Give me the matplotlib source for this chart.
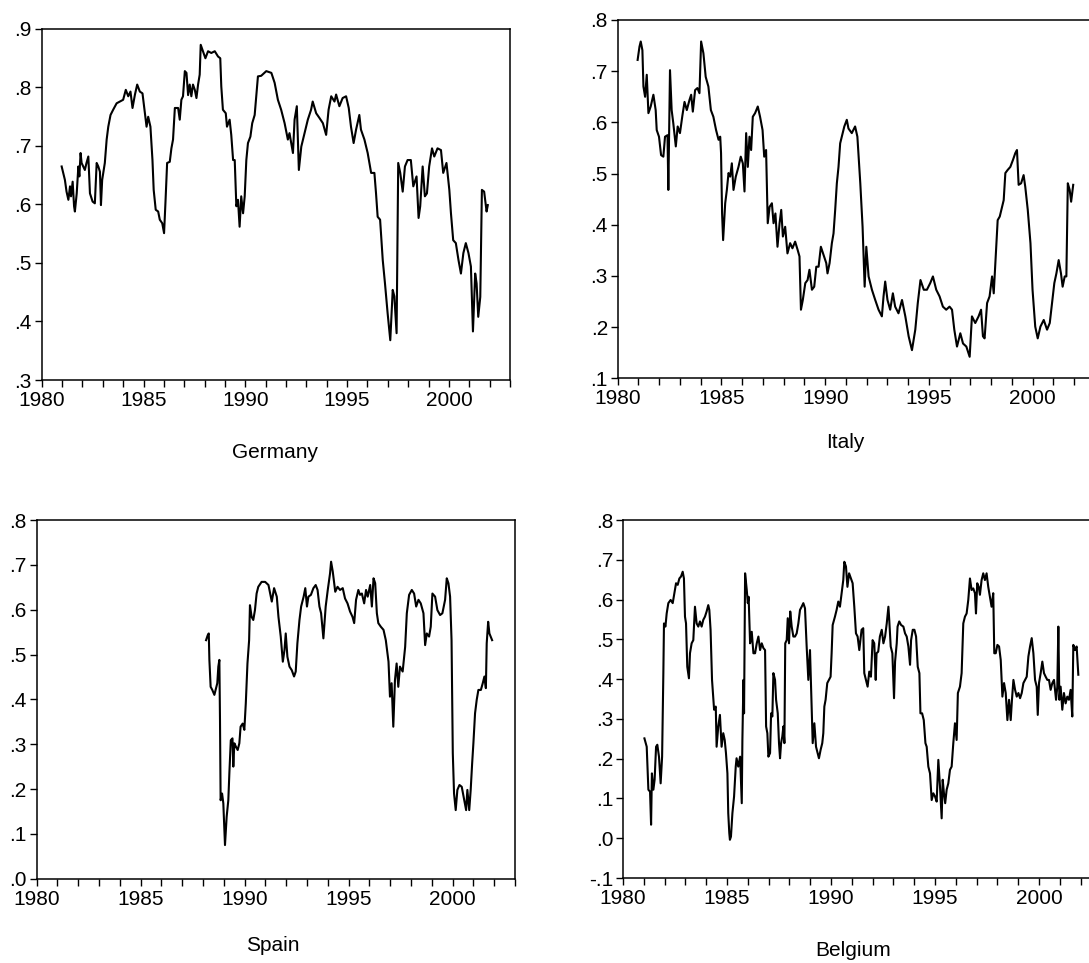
import numpy as np
import matplotlib.pyplot as plt
from matplotlib.ticker import MultipleLocator, FuncFormatter

plt.rcParams['font.family'] = ['Liberation Sans', 'DejaVu Sans']

# Germany
germany_t = [1980.98, 1981.14, 1981.22, 1981.31, 1981.39, 1981.44, 1981.52, 1981.59,
             1981.63, 1981.72, 1981.80, 1981.85, 1981.91, 1981.96, 1982.04, 1982.12,
             1982.20, 1982.29, 1982.37, 1982.50, 1982.61, 1982.70, 1982.78, 1982.86,
             1982.91, 1982.97, 1983.10, 1983.19, 1983.27, 1983.38, 1983.51, 1983.68,
             1983.84, 1984.00, 1984.13, 1984.25, 1984.36, 1984.46, 1984.58, 1984.69,
             1984.82, 1984.95, 1985.07, 1985.15, 1985.23, 1985.34, 1985.44, 1985.50,
             1985.60, 1985.72, 1985.80, 1985.92, 1986.01, 1986.08, 1986.16, 1986.29,
             1986.37, 1986.45, 1986.54, 1986.70, 1986.78, 1986.86, 1986.94, 1987.03,
             1987.11, 1987.19, 1987.27, 1987.35, 1987.43, 1987.52, 1987.60, 1987.68,
             1987.76, 1987.81, 1987.92, 1988.04, 1988.17, 1988.33, 1988.50, 1988.66,
             1988.77, 1988.82, 1988.90, 1989.04, 1989.10, 1989.23, 1989.31, 1989.40,
             1989.48, 1989.56, 1989.64, 1989.72, 1989.80, 1989.89, 1989.97, 1990.05,
             1990.13, 1990.25, 1990.34, 1990.46, 1990.54, 1990.62, 1990.78, 1991.03,
             1991.28, 1991.44, 1991.60, 1991.76, 1991.93, 1992.09, 1992.17, 1992.34,
             1992.42, 1992.53, 1992.63, 1992.75, 1992.91, 1993.07, 1993.23, 1993.31,
             1993.48, 1993.64, 1993.81, 1993.97, 1994.09, 1994.22, 1994.38, 1994.46,
             1994.62, 1994.78, 1994.95, 1995.08, 1995.19, 1995.32, 1995.44, 1995.60,
             1995.68, 1995.85, 1996.01, 1996.18, 1996.34, 1996.42, 1996.50, 1996.62,
             1996.75, 1996.86, 1996.99, 1997.12, 1997.24, 1997.32, 1997.43, 1997.51,
             1997.61, 1997.73, 1997.84, 1997.97, 1998.13, 1998.25, 1998.41, 1998.51,
             1998.59, 1998.71, 1998.82, 1998.92, 1999.03, 1999.17, 1999.28, 1999.44,
             1999.61, 1999.72, 1999.88, 2000.02, 2000.10, 2000.21, 2000.34, 2000.47,
             2000.59, 2000.71, 2000.83, 2000.96, 2001.08, 2001.18, 2001.29, 2001.36,
             2001.44, 2001.54, 2001.62, 2001.73, 2001.85, 2001.91]
germany_v = [.665, .642, .622, .608, .631, .614, .639, .597,
             .588, .619, .665, .648, .688, .671, .665, .659,
             .671, .682, .619, .605, .602, .671, .665, .656,
             .599, .642, .671, .711, .733, .753, .762, .773,
             .776, .779, .796, .785, .793, .765, .788, .805,
             .793, .790, .756, .733, .750, .733, .676, .625,
             .591, .588, .574, .568, .551, .605, .671, .673,
             .696, .711, .765, .765, .745, .779, .785, .828,
             .825, .787, .805, .785, .805, .796, .782, .805,
             .822, .873, .862, .850, .862, .859, .862, .853,
             .850, .802, .762, .756, .733, .745, .719, .676,
             .676, .597, .608, .562, .614, .585, .614, .676,
             .705, .716, .739, .753, .785, .819, .820, .828,
             .825, .808, .779, .762, .739, .711, .722, .688,
             .745, .768, .659, .699, .722, .745, .762, .776,
             .756, .748, .739, .719, .762, .785, .776, .788,
             .768, .782, .785, .765, .733, .705, .728, .753,
             .728, .711, .688, .654, .654, .619, .579, .574,
             .505, .465, .414, .368, .454, .443, .380, .671,
             .654, .622, .665, .676, .676, .631, .648, .577,
             .597, .665, .614, .619, .665, .696, .682, .696,
             .693, .654, .671, .625, .585, .539, .534, .505,
             .482, .517, .534, .517, .494, .383, .482, .465,
             .408, .442, .625, .622, .588, .599]

# Italy
italy_t = [1980.96, 1981.05, 1981.11, 1981.19, 1981.24, 1981.32, 1981.40, 1981.48,
           1981.59, 1981.72, 1981.83, 1981.88, 1981.99, 1982.09, 1982.20, 1982.28,
           1982.40, 1982.44, 1982.52, 1982.60, 1982.68, 1982.80, 1982.89, 1983.00,
           1983.12, 1983.22, 1983.33, 1983.46, 1983.54, 1983.62, 1983.73, 1983.84,
           1983.94, 1984.02, 1984.13, 1984.24, 1984.37, 1984.49, 1984.61, 1984.74,
           1984.86, 1984.94, 1984.98, 1985.03, 1985.08, 1985.18, 1985.26, 1985.34,
           1985.42, 1985.50, 1985.58, 1985.69, 1985.82, 1985.93, 1986.03, 1986.11,
           1986.19, 1986.27, 1986.35, 1986.43, 1986.51, 1986.62, 1986.75, 1986.86,
           1986.98, 1987.06, 1987.15, 1987.23, 1987.32, 1987.43, 1987.51, 1987.60,
           1987.70, 1987.80, 1987.88, 1987.96, 1988.07, 1988.18, 1988.31, 1988.42,
           1988.55, 1988.67, 1988.76, 1988.83, 1988.92, 1989.04, 1989.15, 1989.24,
           1989.36, 1989.47, 1989.57, 1989.68, 1989.79, 1989.92, 1990.05, 1990.11,
           1990.21, 1990.32, 1990.40, 1990.48, 1990.56, 1990.64, 1990.72, 1990.80,
           1990.92, 1991.04, 1991.12, 1991.28, 1991.44, 1991.55, 1991.69, 1991.80,
           1991.90, 1991.98, 1992.09, 1992.25, 1992.41, 1992.57, 1992.73, 1992.81,
           1992.89, 1993.00, 1993.13, 1993.26, 1993.37, 1993.53, 1993.70, 1993.86,
           1994.02, 1994.18, 1994.34, 1994.46, 1994.59, 1994.75, 1994.90, 1995.06,
           1995.19, 1995.35, 1995.51, 1995.67, 1995.83, 1995.99, 1996.11, 1996.22,
           1996.35, 1996.51, 1996.64, 1996.80, 1996.96, 1997.07, 1997.23, 1997.39,
           1997.51, 1997.60, 1997.68, 1997.80, 1997.92, 1998.04, 1998.12, 1998.20,
           1998.31, 1998.41, 1998.52, 1998.60, 1998.68, 1998.79, 1998.92, 1999.05,
           1999.16, 1999.24, 1999.32, 1999.44, 1999.56, 1999.64, 1999.76, 1999.89,
           1999.99, 2000.12, 2000.24, 2000.37, 2000.53, 2000.69, 2000.82, 2000.93,
           2001.04, 2001.14, 2001.25, 2001.36, 2001.44, 2001.54, 2001.62, 2001.69,
           2001.78, 2001.85, 2001.95]
italy_v = [.722, .748, .758, .741, .670, .650, .693, .618,
           .631, .654, .624, .585, .572, .536, .533, .572,
           .575, .468, .702, .624, .598, .553, .592, .579,
           .614, .640, .624, .644, .654, .621, .663, .667,
           .657, .758, .735, .689, .670, .624, .611, .585,
           .566, .572, .540, .422, .370, .442, .468, .501,
           .494, .520, .468, .494, .513, .533, .520, .465,
           .579, .513, .572, .546, .611, .618, .631, .611,
           .585, .533, .546, .403, .435, .442, .403, .422,
           .357, .403, .429, .377, .396, .344, .364, .354,
           .367, .351, .338, .234, .253, .286, .292, .312,
           .273, .279, .318, .318, .357, .341, .325, .305,
           .325, .364, .383, .429, .481, .513, .559, .572,
           .592, .605, .588, .579, .592, .572, .481, .396,
           .279, .357, .299, .273, .253, .234, .221, .260,
           .289, .253, .234, .266, .240, .227, .253, .221,
           .182, .155, .195, .247, .292, .273, .273, .286,
           .299, .273, .260, .240, .234, .240, .234, .195,
           .162, .188, .168, .162, .142, .221, .208, .221,
           .234, .182, .178, .247, .260, .299, .266, .325,
           .409, .416, .435, .448, .501, .507, .513, .527,
           .540, .546, .478, .481, .497, .474, .429, .364,
           .273, .201, .178, .201, .214, .195, .208, .247,
           .286, .305, .331, .305, .279, .299, .299, .481,
           .468, .445, .478]

# Spain
spain_t = [1988.15, 1988.23, 1988.28, 1988.31, 1988.37, 1988.45, 1988.55, 1988.63,
           1988.69, 1988.74, 1988.79, 1988.82, 1988.85, 1988.92, 1988.98, 1989.06,
           1989.14, 1989.22, 1989.27, 1989.34, 1989.42, 1989.46, 1989.51, 1989.59,
           1989.67, 1989.75, 1989.81, 1989.91, 1989.99, 1990.06, 1990.14, 1990.22,
           1990.26, 1990.34, 1990.42, 1990.50, 1990.58, 1990.66, 1990.82,
           1990.99, 1991.15, 1991.31, 1991.42, 1991.55, 1991.63, 1991.74, 1991.84,
           1991.92, 1991.98, 1992.06, 1992.16, 1992.27, 1992.38, 1992.46, 1992.54,
           1992.64, 1992.72, 1992.84, 1992.92, 1993.00, 1993.07, 1993.19, 1993.31,
           1993.42, 1993.51, 1993.60, 1993.68, 1993.79, 1993.90, 1994.00, 1994.11,
           1994.16, 1994.24, 1994.36, 1994.47, 1994.59, 1994.72, 1994.83, 1994.95,
           1995.07, 1995.19, 1995.27, 1995.36, 1995.47, 1995.55, 1995.64, 1995.75,
           1995.84, 1995.92, 1996.04, 1996.12, 1996.20, 1996.28, 1996.36, 1996.43,
           1996.55, 1996.68, 1996.79, 1996.92, 1996.99, 1997.07, 1997.15, 1997.23,
           1997.31, 1997.39, 1997.47, 1997.60, 1997.72, 1997.80, 1997.91, 1998.04,
           1998.15, 1998.25, 1998.36, 1998.47, 1998.60, 1998.68, 1998.76, 1998.87,
           1998.95, 1999.03, 1999.16, 1999.27, 1999.40, 1999.51, 1999.64, 1999.72,
           1999.80, 1999.88, 1999.95, 2000.01, 2000.07, 2000.15, 2000.23, 2000.33,
           2000.44, 2000.56, 2000.65, 2000.71, 2000.80, 2000.87, 2000.94, 2001.00,
           2001.08, 2001.16, 2001.24, 2001.36, 2001.45, 2001.53, 2001.60, 2001.64,
           2001.71, 2001.77, 2001.83, 2001.90]
spain_v = [.532, .543, .547, .488, .428, .421, .410, .425,
           .436, .473, .488, .354, .175, .190, .168, .075,
           .138, .175, .235, .309, .313, .250, .302, .294,
           .287, .302, .339, .346, .332, .391, .480, .532,
           .610, .584, .577, .599, .636, .651, .662,
           .662, .655, .618, .648, .629, .584, .540, .484,
           .510, .547, .495, .473, .465, .451, .462, .525,
           .577, .607, .629, .648, .607, .629, .633, .648,
           .655, .644, .607, .592, .536, .607, .644, .681,
           .707, .685, .640, .651, .644, .648, .625, .614,
           .596, .584, .570, .622, .644, .633, .636, .614,
           .644, .629, .655, .607, .670, .659, .592, .570,
           .562, .555, .532, .484, .406, .436, .339, .443,
           .480, .428, .473, .462, .517, .592, .633, .644,
           .636, .607, .622, .614, .592, .521, .547, .540,
           .562, .636, .629, .599, .588, .592, .622, .670,
           .659, .629, .532, .280, .190, .153, .198, .209,
           .205, .175, .153, .198, .153, .198, .257, .302,
           .369, .399, .421, .421, .436, .451, .425, .525,
           .573, .547, .540, .532]

# Belgium
belgium_t = [1981.03, 1981.14, 1981.19, 1981.22, 1981.30, 1981.35, 1981.39, 1981.46,
             1981.52, 1981.59, 1981.65, 1981.73, 1981.81, 1981.88, 1981.94, 1981.97,
             1982.04, 1982.10, 1982.18, 1982.29, 1982.39, 1982.47, 1982.55, 1982.63,
             1982.71, 1982.79, 1982.87, 1982.93, 1982.98, 1983.03, 1983.09, 1983.17,
             1983.22, 1983.30, 1983.38, 1983.46, 1983.54, 1983.62, 1983.70, 1983.78,
             1983.86, 1983.94, 1984.02, 1984.10, 1984.15, 1984.21, 1984.28, 1984.38,
             1984.46, 1984.50, 1984.58, 1984.66, 1984.74, 1984.82, 1984.89, 1984.95,
             1985.02, 1985.06, 1985.11, 1985.14, 1985.19, 1985.26, 1985.34, 1985.42,
             1985.46, 1985.54, 1985.63, 1985.71, 1985.74, 1985.79, 1985.82, 1985.87,
             1985.95, 1986.00, 1986.04, 1986.11, 1986.19, 1986.27, 1986.35, 1986.43,
             1986.51, 1986.59, 1986.67, 1986.75, 1986.83, 1986.88, 1986.94, 1986.99,
             1987.07, 1987.12, 1987.18, 1987.23, 1987.31, 1987.36, 1987.44, 1987.50,
             1987.55, 1987.60, 1987.66, 1987.71, 1987.76, 1987.80, 1987.87, 1987.92,
             1987.98, 1988.04, 1988.11, 1988.19, 1988.27, 1988.35, 1988.43, 1988.51,
             1988.59, 1988.67, 1988.75, 1988.83, 1988.91, 1988.99, 1989.07, 1989.12,
             1989.20, 1989.28, 1989.36, 1989.42, 1989.50, 1989.58, 1989.63, 1989.68,
             1989.74, 1989.82, 1989.90, 1989.98, 1990.03, 1990.08, 1990.19, 1990.27,
             1990.35, 1990.43, 1990.51, 1990.59, 1990.64, 1990.72, 1990.79, 1990.87,
             1990.96, 1991.04, 1991.12, 1991.20, 1991.28, 1991.36, 1991.47, 1991.55,
             1991.60, 1991.68, 1991.76, 1991.84, 1991.92, 1992.00, 1992.08, 1992.15,
             1992.19, 1992.27, 1992.35, 1992.44, 1992.52, 1992.60, 1992.68, 1992.76,
             1992.80, 1992.87, 1992.95, 1993.03, 1993.08, 1993.16, 1993.20, 1993.28,
             1993.37, 1993.48, 1993.56, 1993.64, 1993.72, 1993.80, 1993.85, 1993.93,
             1994.01, 1994.09, 1994.17, 1994.25, 1994.30, 1994.38, 1994.46, 1994.54,
             1994.60, 1994.68, 1994.76, 1994.84, 1994.92, 1995.00, 1995.08, 1995.16,
             1995.24, 1995.32, 1995.37, 1995.43, 1995.49, 1995.56, 1995.64, 1995.72,
             1995.80, 1995.88, 1995.96, 1996.04, 1996.10, 1996.20, 1996.28, 1996.36,
             1996.44, 1996.52, 1996.60, 1996.68, 1996.76, 1996.84, 1996.92, 1996.97,
             1997.03, 1997.10, 1997.16, 1997.24, 1997.32, 1997.40, 1997.48, 1997.56,
             1997.64, 1997.72, 1997.80, 1997.85, 1997.92, 1998.00, 1998.08, 1998.16,
             1998.24, 1998.32, 1998.40, 1998.48, 1998.56, 1998.64, 1998.70, 1998.77,
             1998.85, 1998.93, 1999.01, 1999.09, 1999.17, 1999.25, 1999.33, 1999.41,
             1999.49, 1999.57, 1999.65, 1999.73, 1999.81, 1999.89, 1999.94, 2000.00,
             2000.08, 2000.16, 2000.24, 2000.32, 2000.40, 2000.48, 2000.56, 2000.64,
             2000.72, 2000.82, 2000.88, 2000.93, 2000.98, 2001.04, 2001.12, 2001.20,
             2001.28, 2001.36, 2001.44, 2001.52, 2001.60, 2001.65, 2001.73, 2001.81,
             2001.89]
belgium_v = [.251, .230, .163, .122, .117, .034, .163, .122,
             .147, .230, .235, .205, .138, .205, .415, .540,
             .532, .565, .591, .599, .591, .616, .641, .637,
             .653, .658, .670, .653, .557, .540, .431, .402,
             .465, .490, .498, .582, .540, .532, .545, .532,
             .549, .557, .570, .586, .574, .524, .398, .323,
             .331, .230, .281, .310, .230, .264, .247, .214,
             .163, .063, .013, -.004, .004, .063, .105, .180,
             .201, .180, .205, .088, .247, .398, .314, .666,
             .624, .591, .607, .490, .519, .465, .465, .490,
             .507, .473, .490, .478, .473, .281, .264, .205,
             .214, .314, .306, .415, .398, .348, .314, .239,
             .201, .239, .256, .281, .239, .490, .498, .553,
             .490, .570, .532, .507, .507, .515, .540, .574,
             .582, .591, .578, .482, .398, .473, .331, .239,
             .289, .230, .214, .201, .222, .239, .264, .331,
             .348, .390, .398, .406, .465, .536, .557, .574,
             .595, .582, .616, .649, .695, .683, .632, .666,
             .653, .641, .582, .515, .507, .473, .524, .528,
             .415, .398, .381, .419, .406, .498, .490, .398,
             .465, .469, .507, .524, .490, .507, .540, .582,
             .549, .482, .465, .352, .444, .490, .532, .545,
             .536, .532, .515, .507, .482, .436, .498, .524,
             .524, .507, .431, .415, .314, .314, .297, .239,
             .230, .180, .163, .096, .113, .105, .092, .197,
             .130, .050, .147, .113, .088, .122, .138, .172,
             .180, .239, .289, .247, .365, .381, .415, .540,
             .557, .565, .599, .653, .624, .628, .616, .565,
             .641, .632, .612, .649, .666, .649, .666, .632,
             .607, .582, .616, .465, .465, .486, .482, .448,
             .356, .390, .365, .297, .348, .297, .348, .398,
             .373, .356, .365, .352, .365, .390, .398, .406,
             .457, .482, .503, .465, .398, .381, .310, .390,
             .415, .444, .415, .406, .398, .398, .373, .390,
             .398, .348, .381, .532, .348, .381, .323, .365,
             .339, .356, .348, .373, .306, .486, .473, .482,
             .411]


def dot_fmt(val, pos):
    s = '%.1f' % val
    if s == '-0.0':
        s = '0.0'
    return s.replace('0.', '.', 1)


W, H = 1089, 963
fig = plt.figure(figsize=(W / 100, H / 100), dpi=100)


def panel(left, top, width, height, t, v, ymin, ymax, name, lx, ly):
    ax = fig.add_axes([left / W, 1 - (top + height) / H, width / W, height / H])
    ax.plot(t, v, color='black', lw=1.5)
    ax.set_xlim(1980, 2003)
    ax.set_ylim(ymin, ymax)
    ax.xaxis.set_major_locator(MultipleLocator(5))
    ax.xaxis.set_minor_locator(MultipleLocator(1))
    ax.yaxis.set_major_locator(MultipleLocator(0.1))
    ax.yaxis.set_major_formatter(FuncFormatter(dot_fmt))
    ax.tick_params(axis='both', which='both', direction='out', width=1.0,
                   labelsize=15, top=False, right=False)
    ax.tick_params(axis='x', which='major', length=5, pad=3)
    ax.tick_params(axis='x', which='minor', length=5)
    ax.tick_params(axis='y', which='major', length=5, pad=2)
    for sp in ax.spines.values():
        sp.set_linewidth(1.1)
    fig.text(lx / W, 1 - ly / H, name, ha='center', va='center', fontsize=15)
    return ax


panel(41.7, 29, 468.3, 351, germany_t, germany_v, 0.3, 0.9, 'Germany', 275, 452)
panel(617.7, 20, 477.3, 358.3, italy_t, italy_v, 0.1, 0.8, 'Italy', 845, 442)
panel(36.5, 520, 478.5, 358.7, spain_t, spain_v, 0.0, 0.8, 'Spain', 273, 945)
panel(623, 520, 478.4, 358, belgium_t, belgium_v, -0.1, 0.8, 'Belgium', 853, 950)

fig.savefig('out.png', dpi=100)
